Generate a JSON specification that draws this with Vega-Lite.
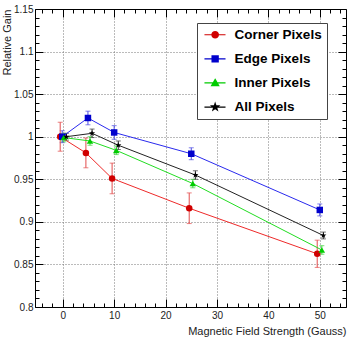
{
  "$schema": "https://vega.github.io/schema/vega-lite/v6.json",
  "autosize": {"type": "none"},
  "width": 311,
  "height": 298,
  "padding": {"left": 35, "top": 9, "right": 7, "bottom": 36},
  "background": "white",
  "config": {
    "view": {"stroke": null},
    "font": "Liberation Sans",
    "axis": {
      "labelFont": "Liberation Sans",
      "titleFont": "Liberation Sans",
      "labelFontSize": 10,
      "titleFontSize": 11,
      "titleFontWeight": "normal",
      "labelColor": "#222",
      "titleColor": "#222",
      "domainColor": "#000",
      "tickColor": "#000",
      "tickWidth": 1,
      "gridColor": "#777",
      "gridDash": [1, 2],
      "gridWidth": 1,
      "labelFlush": false,
      "labelOverlap": false,
      "labelBound": false
    },
    "legend": {
      "orient": "none",
      "legendX": 162,
      "legendY": 14,
      "strokeColor": "#444",
      "fillColor": "white",
      "padding": 5,
      "rowPadding": 9.1,
      "symbolSize": 42,
      "symbolOffset": 6.4,
      "symbolOpacity": 1,
      "symbolStrokeWidth": 1.2,
      "labelOffset": 12.7,
      "labelFont": "Liberation Sans",
      "labelFontSize": 13.5,
      "labelFontWeight": "bold",
      "labelColor": "#000",
      "cornerRadius": 0
    }
  },
  "data": {
    "values": [
      {"series": "Corner Pixels", "B": -0.5, "gain": 1.0, "err": 0.017},
      {"series": "Corner Pixels", "B": 4.5, "gain": 0.981, "err": 0.0175},
      {"series": "Corner Pixels", "B": 9.6, "gain": 0.951, "err": 0.018},
      {"series": "Corner Pixels", "B": 24.6, "gain": 0.916, "err": 0.018},
      {"series": "Corner Pixels", "B": 49.5, "gain": 0.8625, "err": 0.016},
      {"series": "Edge Pixels", "B": -0.1, "gain": 1.0, "err": 0.007},
      {"series": "Edge Pixels", "B": 4.9, "gain": 1.022, "err": 0.008},
      {"series": "Edge Pixels", "B": 10.0, "gain": 1.005, "err": 0.008},
      {"series": "Edge Pixels", "B": 25.0, "gain": 0.98, "err": 0.007},
      {"series": "Edge Pixels", "B": 50.0, "gain": 0.914, "err": 0.007},
      {"series": "Inner Pixels", "B": 0.2, "gain": 0.999, "err": 0.005},
      {"series": "Inner Pixels", "B": 5.3, "gain": 0.995, "err": 0.005},
      {"series": "Inner Pixels", "B": 10.4, "gain": 0.984, "err": 0.005},
      {"series": "Inner Pixels", "B": 25.3, "gain": 0.945, "err": 0.005},
      {"series": "Inner Pixels", "B": 50.4, "gain": 0.867, "err": 0.005},
      {"series": "All Pixels", "B": 0.7, "gain": 1.0, "err": 0.004},
      {"series": "All Pixels", "B": 5.7, "gain": 1.004, "err": 0.005},
      {"series": "All Pixels", "B": 10.8, "gain": 0.99, "err": 0.005},
      {"series": "All Pixels", "B": 25.8, "gain": 0.955, "err": 0.005},
      {"series": "All Pixels", "B": 50.7, "gain": 0.884, "err": 0.004}
    ]
  },
  "resolve": {
    "scale": {"color": "independent", "shape": "independent"},
    "axis": {"x": "independent", "y": "independent"}
  },
  "layer": [
    {
      "mark": {"type": "errorbar", "ticks": {"size": 5, "thickness": 1}, "thickness": 1},
      "encoding": {
        "x": {"field": "B", "type": "quantitative", "scale": {"domain": [-5.4, 55.1], "nice": false, "zero": false}, "axis": null},
        "y": {"field": "gain", "type": "quantitative", "scale": {"domain": [0.8, 1.15], "nice": false, "zero": false}, "axis": null},
        "yError": {"field": "err"},
        "color": {"field": "series", "type": "nominal", "legend": null,
          "scale": {"domain": ["Corner Pixels", "Edge Pixels", "Inner Pixels", "All Pixels"], "range": ["#e24c4c", "#4c4ce2", "#3cd63c", "#333333"]}}
      }
    },
    {
      "mark": {"type": "line", "strokeWidth": 1},
      "encoding": {
        "x": {"field": "B", "type": "quantitative",
          "axis": {"orient": "top", "labels": false, "title": null, "grid": false, "domain": true,
            "values": [-4, -2, 0, 2, 4, 6, 8, 10, 12, 14, 16, 18, 20, 22, 24, 26, 28, 30, 32, 34, 36, 38, 40, 42, 44, 46, 48, 50, 52, 54],
            "tickSize": {"condition": {"test": "datum.value % 10 === 0", "value": -8}, "value": -4}}},
        "y": {"field": "gain", "type": "quantitative",
          "axis": {"orient": "right", "labels": false, "title": null, "grid": false, "domain": true,
            "values": [0.8, 0.81, 0.82, 0.83, 0.84, 0.85, 0.86, 0.87, 0.88, 0.89, 0.9, 0.91, 0.92, 0.93, 0.94, 0.95, 0.96, 0.97, 0.98, 0.99, 1, 1.01, 1.02, 1.03, 1.04, 1.05, 1.06, 1.07, 1.08, 1.09, 1.1, 1.11, 1.12, 1.13, 1.14, 1.15],
            "tickSize": {"condition": {"test": "abs(datum.value*20-round(datum.value*20)) < 0.01", "value": -8}, "value": -4}}},
        "color": {"field": "series", "type": "nominal", "legend": null,
          "scale": {"domain": ["Corner Pixels", "Edge Pixels", "Inner Pixels", "All Pixels"], "range": ["#ee2a2a", "#2a2aee", "#22dd22", "#222222"]}}
      }
    },
    {
      "mark": {"type": "point", "filled": true, "opacity": 1, "size": 42},
      "encoding": {
        "x": {"field": "B", "type": "quantitative",
          "axis": {"orient": "bottom", "title": "Magnetic Field Strength (Gauss)", "titleAnchor": "end", "titlePadding": 1, "labelPadding": 11, "grid": true, "domain": true,
            "values": [-4, -2, 0, 2, 4, 6, 8, 10, 12, 14, 16, 18, 20, 22, 24, 26, 28, 30, 32, 34, 36, 38, 40, 42, 44, 46, 48, 50, 52, 54],
            "labelExpr": "datum.value % 10 === 0 ? format(datum.value, 'd') : ''",
            "gridOpacity": {"condition": {"test": "datum.value % 10 === 0", "value": 1}, "value": 0},
            "tickSize": {"condition": {"test": "datum.value % 10 === 0", "value": -8}, "value": -4}}},
        "y": {"field": "gain", "type": "quantitative",
          "axis": {"orient": "left", "title": "Relative Gain", "titleAnchor": "end", "titlePadding": 1, "labelPadding": 10, "grid": true, "domain": true,
            "values": [0.8, 0.81, 0.82, 0.83, 0.84, 0.85, 0.86, 0.87, 0.88, 0.89, 0.9, 0.91, 0.92, 0.93, 0.94, 0.95, 0.96, 0.97, 0.98, 0.99, 1, 1.01, 1.02, 1.03, 1.04, 1.05, 1.06, 1.07, 1.08, 1.09, 1.1, 1.11, 1.12, 1.13, 1.14, 1.15],
            "labelExpr": "abs(datum.value*20-round(datum.value*20)) < 0.01 ? format(datum.value, '.3~g') : ''",
            "gridOpacity": {"condition": {"test": "abs(datum.value*20-round(datum.value*20)) < 0.01", "value": 1}, "value": 0},
            "tickSize": {"condition": {"test": "abs(datum.value*20-round(datum.value*20)) < 0.01", "value": -8}, "value": -4}}},
        "color": {"field": "series", "type": "nominal", "legend": null,
          "scale": {"domain": ["Corner Pixels", "Edge Pixels", "Inner Pixels", "All Pixels"], "range": ["#d00000", "#0000cc", "#00cc00", "#000000"]}},
        "shape": {"field": "series", "type": "nominal", "legend": null,
          "scale": {"domain": ["Corner Pixels", "Edge Pixels", "Inner Pixels", "All Pixels"],
            "range": ["circle", "square", "triangle-up", "M0,-1L0.235,-0.324L0.951,-0.309L0.38,0.124L0.588,0.809L0,0.4L-0.588,0.809L-0.38,0.124L-0.951,-0.309L-0.235,-0.324Z"]}}
      }
    },
    {
      "mark": {"type": "point", "filled": false, "opacity": 0, "size": 42, "strokeWidth": 1.2},
      "encoding": {
        "x": {"field": "B", "type": "quantitative", "axis": null},
        "y": {"field": "gain", "type": "quantitative", "axis": null},
        "color": {"field": "series", "type": "nominal", "legend": {"title": null},
          "scale": {"domain": ["Corner Pixels", "Edge Pixels", "Inner Pixels", "All Pixels"], "range": ["#d00000", "#0000cc", "#00cc00", "#000000"]}},
        "shape": {"field": "series", "type": "nominal", "legend": {"title": null},
          "scale": {"domain": ["Corner Pixels", "Edge Pixels", "Inner Pixels", "All Pixels"],
            "range": [
              "M-3.3,0H3.2M-1,0A1,1,0,1,1,1,0A1,1,0,1,1,-1,0ZM-0.7,0A0.7,0.7,0,1,1,0.7,0A0.7,0.7,0,1,1,-0.7,0ZM-0.4,0A0.4,0.4,0,1,1,0.4,0A0.4,0.4,0,1,1,-0.4,0ZM-0.12,0A0.12,0.12,0,1,1,0.12,0A0.12,0.12,0,1,1,-0.12,0Z",
              "M-3.3,0H3.2M-0.95,-0.95H0.95V0.95H-0.95ZM-0.65,-0.65H0.65V0.65H-0.65ZM-0.35,-0.35H0.35V0.35H-0.35ZM-0.08,-0.08H0.08V0.08H-0.08Z",
              "M-3.3,0H3.2M0,-1.1L1.1,0.8H-1.1ZM0,-0.77L0.77,0.56H-0.77ZM0,-0.44L0.44,0.32H-0.44ZM0,-0.13L0.13,0.1H-0.13Z",
              "M-3.3,0H3.2M0,-1.15L0.27,-0.37L1.09,-0.36L0.44,0.14L0.68,0.93L0,0.46L-0.68,0.93L-0.44,0.14L-1.09,-0.36L-0.27,-0.37ZM0,-0.6L0.14,-0.19L0.57,-0.19L0.23,0.07L0.35,0.49L0,0.24L-0.35,0.49L-0.23,0.07L-0.57,-0.19L-0.14,-0.19ZM0,-0.25L0.06,-0.08L0.24,-0.08L0.1,0.03L0.15,0.2L0,0.1L-0.15,0.2L-0.1,0.03L-0.24,-0.08L-0.06,-0.08Z"
            ]}}
      }
    }
  ]
}
